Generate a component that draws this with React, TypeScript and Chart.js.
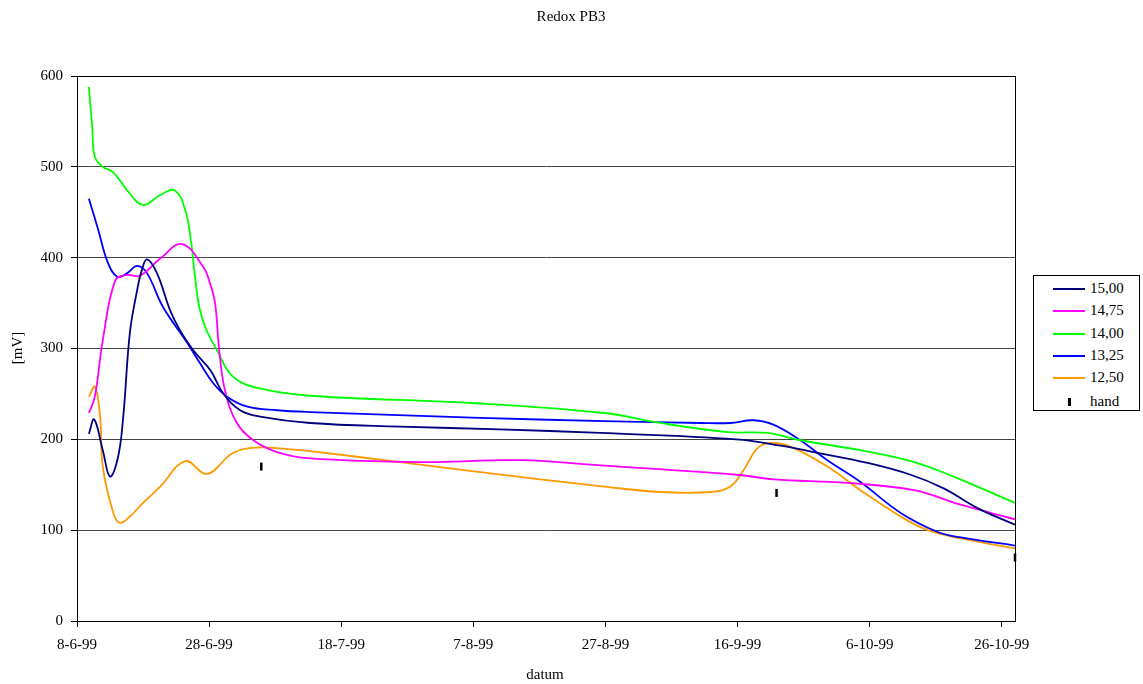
import React, { useEffect, useRef } from "react";
import { Chart, registerables } from "chart.js";

Chart.register(...registerables);

const TITLE = "Redox PB3";
const X_TITLE = "datum";
const Y_TITLE = "[mV]";
const START = { y: 1999, m: 5, d: 8 }; // day 0 = 8-6-99

const seriesNames = ["15,00", "14,75", "14,00", "13,25", "12,50"];
const seriesColors = ["#000080", "#FF00FF", "#00FF00", "#0000FF", "#FF9900"];

const days1500 = [1.8, 2.6, 3.9, 5.0, 6.2, 7.0, 8.0, 9.1, 9.8, 10.6, 12.1, 14.1, 15.6, 17.6, 20.2, 22.1, 24.7, 27.7, 35.3, 48.9, 64, 79.2, 99.8, 106.5, 111.5, 119.7, 126.2, 131.2, 136.4, 142];
const vals1500 = [206, 222, 188, 159, 180, 225, 317, 364, 386, 398, 383, 342, 320, 298, 276, 251, 232, 225, 218, 214, 211, 207, 200, 193, 186, 174, 161, 146, 124, 106];

const days1475 = [1.8, 2.7, 3.9, 5.8, 7.6, 9.5, 12.6, 15.9, 19.1, 20.0, 20.9, 21.5, 22.4, 24.2, 26.7, 30.3, 35.3, 52, 67, 79.8, 99.8, 105.5, 116.7, 126.7, 133.8, 142];
const vals1475 = [229, 247, 309, 375, 381, 380, 399, 415, 390, 375, 350, 300, 254, 218, 199, 186, 179, 175, 177, 171, 161, 156, 152, 144, 128, 112];

const days1400 = [1.8, 2.3, 2.7, 3.9, 5.5, 7.6, 10.0, 12.6, 14.8, 16.4, 17.3, 17.8, 18.5, 19.5, 21.2, 23.6, 27.7, 35.3, 59.8, 79.8, 88.3, 98.5, 104.5, 109.5, 118.6, 126.7, 132.7, 142];
const vals1400 = [588, 544, 511, 500, 494, 474, 458, 469, 474, 452, 416, 383, 346, 322, 298, 269, 256, 248, 240, 229, 218, 208, 207, 199, 188, 175, 159, 130];

const days1325 = [1.8, 3.2, 4.7, 6.1, 7.6, 9.1, 10.6, 13.0, 16.7, 18.6, 20.6, 22.7, 25.8, 30.3, 35.3, 59.8, 79.8, 94.4, 98.9, 102.4, 105.5, 109.5, 113.6, 118.6, 124.7, 130.3, 133.8, 142];
const vals1325 = [465, 431, 394, 379, 383, 391, 383, 346, 306, 284, 262, 247, 236, 232, 230, 224, 220, 218, 218, 221, 216, 199, 177, 153, 119, 98, 92, 83];

const days1250 = [1.8, 2.7, 3.5, 3.9, 5.5, 6.5, 8.0, 10.0, 12.6, 16.4, 19.7, 23.6, 27.3, 32.3, 35.3, 48.9, 59.8, 79.8, 88.3, 95.9, 98.9, 100.9, 103.0, 105.0, 108.0, 113.6, 118.6, 124.7, 128.8, 133.8, 142];
const vals1250 = [247, 258, 225, 170, 119, 108, 115, 130, 148, 176, 162, 185, 191, 189, 187, 175, 165, 148, 142, 142, 148, 166, 190, 196, 192, 170, 144, 115, 100, 91, 80];

const handDays = [27.9, 105.9, 142];
const handVals = [170, 141, 70];

const Y_TICKS = [0, 100, 200, 300, 400, 500, 600];
const X_TICKS = [0, 20, 40, 60, 80, 100, 120, 140];

function toPts(d: number[], v: number[]) {
  return d.map((x, i) => ({ x, y: v[i] }));
}

function fmtDate(day: number) {
  const dt = new Date(START.y, START.m, START.d + Math.round(day));
  return `${dt.getDate()}-${dt.getMonth() + 1}-${String(dt.getFullYear()).slice(2)}`;
}

const FONT = '"Liberation Serif", "DejaVu Serif", serif';

export default function App() {
  const ref = useRef<HTMLCanvasElement | null>(null);

  useEffect(() => {
    document.body.style.margin = "0";
    const allDays = [days1500, days1475, days1400, days1325, days1250];
    const allVals = [vals1500, vals1475, vals1400, vals1325, vals1250];
    const datasets: any[] = allDays.map((d, i) => ({
      label: seriesNames[i],
      data: toPts(d, allVals[i]),
      borderColor: seriesColors[i],
      backgroundColor: seriesColors[i],
      borderWidth: 1.8,
      pointRadius: 0,
      tension: 0.4,
      fill: false,
    }));
    datasets.push({
      label: "hand",
      data: toPts(handDays, handVals),
      showLine: false,
      pointStyle: "line",
      rotation: 90,
      pointRadius: 4,
      borderWidth: 2.5,
      borderColor: "#000",
      backgroundColor: "#000",
      clip: false,
    });

    const decor = {
      id: "decor",
      afterDraw(chart: any) {
        const { ctx, chartArea } = chart;
        ctx.save();
        ctx.strokeStyle = "#000";
        ctx.lineWidth = 1;
        ctx.strokeRect(chartArea.left + 0.5, chartArea.top + 0.5, chartArea.right - chartArea.left, chartArea.bottom - chartArea.top);
        ctx.fillStyle = "#000";
        ctx.font = `15px ${FONT}`;
        ctx.textAlign = "center";
        ctx.textBaseline = "middle";
        ctx.fillText(TITLE, 571, 17);
        ctx.fillText(X_TITLE, 545, 675);
        ctx.translate(18, 348);
        ctx.rotate(-Math.PI / 2);
        ctx.fillText(Y_TITLE, 0, 0);
        ctx.restore();
      },
    };

    const chart = new Chart(ref.current as HTMLCanvasElement, {
      type: "line",
      data: { datasets },
      options: {
        animation: false,
        responsive: false,
        devicePixelRatio: 1,
        layout: { padding: { left: 0, top: 76, right: 128, bottom: 0 } },
        plugins: { legend: { display: false }, title: { display: false }, tooltip: { enabled: false } },
        scales: {
          x: {
            type: "linear",
            min: 0,
            max: 142,
            afterFit: (s: any) => { s.height = 63; },
            afterBuildTicks: (s: any) => { s.ticks = X_TICKS.map((v) => ({ value: v })); },
            ticks: { callback: (v: any) => fmtDate(Number(v)), font: { family: FONT, size: 15 }, color: "#000", padding: 9, maxRotation: 0, autoSkip: false },
            grid: { drawOnChartArea: false, drawTicks: true, tickLength: 6, color: "#000" },
            border: { color: "#000" },
          },
          y: {
            min: 0,
            max: 600,
            afterFit: (s: any) => { s.width = 77; },
            afterBuildTicks: (s: any) => { s.ticks = Y_TICKS.map((v) => ({ value: v })); },
            ticks: { font: { family: FONT, size: 15 }, color: "#000", padding: 8 },
            grid: { color: "#444", tickLength: 6, drawTicks: true, tickColor: "#000" },
            border: { color: "#000" },
          },
        },
      },
      plugins: [decor],
    });
    return () => chart.destroy();
  }, []);

  const legendItems = [...seriesNames.map((n, i) => ({ n, c: seriesColors[i] })), { n: "hand", c: "" }];

  return (
    <div style={{ position: "absolute", left: 0, top: 0, width: 1143, height: 684, background: "#fff" }}>
      <canvas ref={ref} width={1143} height={684} style={{ width: 1143, height: 684, display: "block" }} />
      <div
        style={{
          position: "absolute",
          left: 1033,
          top: 275,
          width: 105,
          height: 134,
          border: "1px solid #000",
          background: "#fff",
          fontFamily: FONT,
          fontSize: 15,
          color: "#000",
        }}
      >
        {legendItems.map((it, i) => (
          <div key={i} style={{ position: "absolute", left: 0, top: 2 + i * 22.3 + (i === 5 ? 1 : 0), height: 20, width: 105 }}>
            {it.c ? (
              <div style={{ position: "absolute", left: 19, top: 10, width: 32, height: 2, background: it.c }} />
            ) : (
              <div style={{ position: "absolute", left: 34, top: 7, width: 2.5, height: 8, background: "#000" }} />
            )}
            <span style={{ position: "absolute", left: 56, top: 0, lineHeight: "20px" }}>{it.n}</span>
          </div>
        ))}
      </div>
    </div>
  );
}
